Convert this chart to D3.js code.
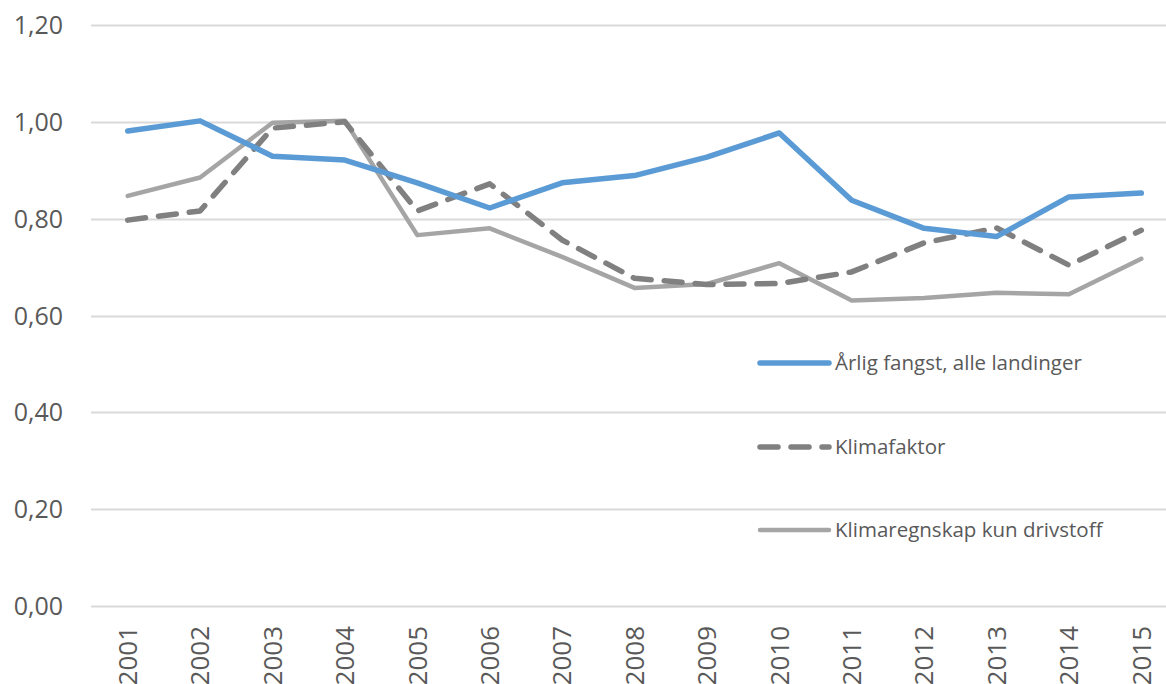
<!DOCTYPE html>
<html><head><meta charset="utf-8">
<script src="https://cdn.jsdelivr.net/npm/d3@7"></script>
<style>body{margin:0;background:#fff}svg{display:block}</style>
</head><body>
<svg id="c" width="1166" height="684"></svg>
<script>
const years = ["2001","2002","2003","2004","2005","2006","2007","2008","2009","2010","2011","2012","2013","2014","2015"];
const fangst = [0.981,1.002,0.929,0.921,0.874,0.822,0.874,0.889,0.927,0.977,0.838,0.780,0.763,0.845,0.853];
const klimafaktor = [0.797,0.816,0.987,1.000,0.816,0.872,0.756,0.677,0.664,0.666,0.690,0.750,0.781,0.704,0.776];
const drivstoff = [0.847,0.885,0.998,1.002,0.766,0.780,0.721,0.657,0.665,0.708,0.631,0.636,0.647,0.644,0.717];
const yTicks = [0,0.2,0.4,0.6,0.8,1.0,1.2];
const seriesNames = ["Årlig fangst, alle landinger","Klimafaktor","Klimaregnskap kun drivstoff"];

const svg = d3.select("#c");
const x = d3.scalePoint().domain(years).range([91.5, 1177.5]).padding(0.5);
const y = d3.scaleLinear().domain([0,1.2]).range([606,25]);
const fmt = v => d3.format(".2f")(v).replace(".", ",");

svg.append("g").selectAll("line").data(yTicks).join("line")
  .attr("x1",91).attr("x2",1166)
  .attr("y1",d=>Math.round(y(d))+0.5).attr("y2",d=>Math.round(y(d))+0.5)
  .attr("stroke","#d9d9d9").attr("stroke-width",2);

svg.append("g").selectAll("text").data(yTicks).join("text")
  .attr("x",63).attr("y",d=>y(d)).attr("dy","0.36em")
  .attr("text-anchor","end")
  .attr("font-family","'Open Sans', sans-serif").attr("font-size",25)
  .attr("fill","#595959").text(fmt);

svg.append("g").selectAll("text").data(years).join("text")
  .attr("transform",d=>`translate(${x(d)},626) rotate(-90)`)
  .attr("dy","0.36em")
  .attr("text-anchor","end")
  .attr("font-family","'Open Sans', sans-serif").attr("font-size",26)
  .attr("fill","#595959").text(d=>d);

const line = d3.line().x((d,i)=>x(years[i])).y(d=>y(d));
const styles = [
  {data: fangst, color:"#5b9bd5", w:5.5, dash:null},
  {data: klimafaktor, color:"#808080", w:5.5, dash:"18 13"},
  {data: drivstoff, color:"#a5a5a5", w:4.5, dash:null}
];
[2,1,0].forEach(i=>{
  const s = styles[i];
  svg.append("path").datum(s.data).attr("d",line)
    .attr("fill","none").attr("stroke",s.color).attr("stroke-width",s.w)
    .attr("stroke-linejoin","round").attr("stroke-linecap","round")
    .attr("stroke-dasharray",s.dash);
});

const ly = [363,447,530];
const lg = svg.append("g");
seriesNames.forEach((n,i)=>{
  const s = styles[i];
  lg.append("line").attr("x1",760).attr("x2",829).attr("y1",ly[i]).attr("y2",ly[i])
    .attr("stroke",s.color).attr("stroke-width",s.w).attr("stroke-linecap","round")
    .attr("stroke-dasharray",s.dash);
  lg.append("text").attr("x",835).attr("y",ly[i]).attr("dy","0.36em")
    .attr("font-family","'Open Sans', sans-serif").attr("font-size",20.5)
    .attr("fill","#595959").text(n);
});
</script>
</body></html>
